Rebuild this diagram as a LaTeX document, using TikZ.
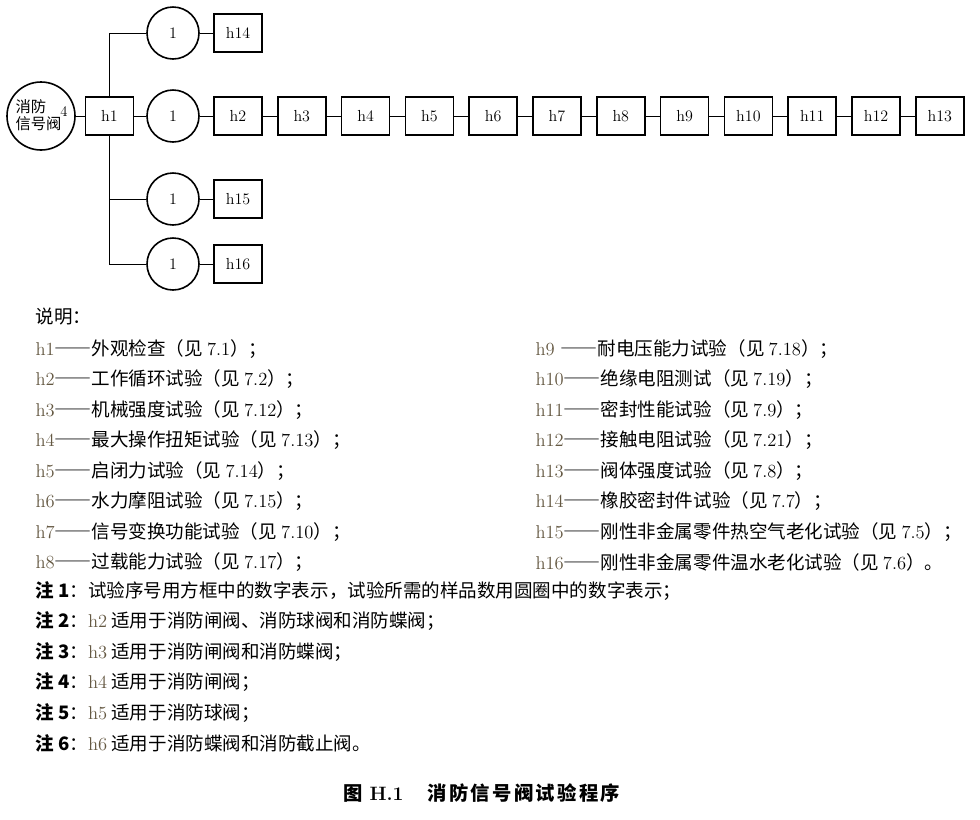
\documentclass[tikz,border=0pt]{standalone}
\usepackage{fontspec}
\newfontfamily\cjk{Noto Sans CJK SC}
\newfontfamily\cjkcap[LetterSpace=12]{Noto Sans CJK SC}
\definecolor{hlabel}{RGB}{100,88,66}

\tikzset{every picture/.style={line width=0.75pt}}
\tikzset{
  testbox/.style={draw, line width=1.3pt, minimum width=36pt, minimum height=28.5pt, inner sep=0pt, font=\fontsize{12}{14}\selectfont},
  samplecirc/.style={draw, circle, line width=1.2pt, minimum size=39pt, inner sep=0pt, font=\fontsize{12}{14}\selectfont},
  legend/.style={anchor=west, inner sep=0pt, font=\cjk\fontsize{13.9}{16}\selectfont},
}
\newcommand\hlab[1]{\textcolor{hlabel}{\rmfamily #1}}
\newcommand\longdash{{\addfontfeatures{RawFeature=+fwid}——}}
\newcommand\legitem[4]{\hlab{#1}\longdash#2（见 {\rmfamily #3}）#4}
\newcommand\notehead[1]{{\bfseries 注 #1}：}

\begin{document}
\begin{tikzpicture}[x=0.75pt,y=0.75pt,yscale=-1,xscale=1]
\useasboundingbox (0,0) rectangle (980,819);

%Shape: Circle [valve]
\node[draw, circle, line width=1.2pt, minimum size=51pt, inner sep=0pt] (valve) at (41,116) {};
% Text Node
\node[align=left, inner sep=0pt, font=\cjk\fontsize{11.5}{12.8}\selectfont] (valvetxt) at (38.5,115) {消防\\信号阀};
% Text Node
\node[inner sep=0pt, font=\fontsize{11}{12}\selectfont] (valvenum) at (64,112) {4};

%Shape: Boxes and circles
\node[testbox] (h1) at (109.5,116) {h1};
\node[samplecirc] (c1) at (173,116) {1};
\node[testbox] (h2) at (238,116) {h2};
\foreach \i [count=\k from 2] in {3,...,13} {
  \node[testbox] (h\i) at ({238+63.8*(\i-2)},116) {h\i};
  \draw (h\k) -- (h\i);
}
\node[samplecirc] (c14) at (173,33) {1};
\node[testbox] (h14) at (238,33) {h14};
\node[samplecirc] (c15) at (173,199) {1};
\node[testbox] (h15) at (238,199) {h15};
\node[samplecirc] (c16) at (173,264) {1};
\node[testbox] (h16) at (238,264) {h16};

%Straight Lines
\draw (valve) -- (h1);
\draw (h1) -- (c1) -- (h2);
\draw (h1.north) |- (c14);
\draw (h1.south) |- (c15);
\draw (h1.south) |- (c16);
\draw (c14) -- (h14);
\draw (c15) -- (h15);
\draw (c16) -- (h16);

% Text Node
\node[legend] (key) at (35,317) {说明：};
% Text Node
\node[legend] (k1) at (35,349) {\legitem{h1}{外观检查}{7.1}{；}};
\node[legend] (k2) at (35,379.5) {\legitem{h2}{工作循环试验}{7.2}{；}};
\node[legend] (k3) at (35,410) {\legitem{h3}{机械强度试验}{7.12}{；}};
\node[legend] (k4) at (35,440.5) {\legitem{h4}{最大操作扭矩试验}{7.13}{；}};
\node[legend] (k5) at (35,471) {\legitem{h5}{启闭力试验}{7.14}{；}};
\node[legend] (k6) at (35,501.5) {\legitem{h6}{水力摩阻试验}{7.15}{；}};
\node[legend] (k7) at (35,532) {\legitem{h7}{信号变换功能试验}{7.10}{；}};
\node[legend] (k8) at (35,562.5) {\legitem{h8}{过载能力试验}{7.17}{；}};
% Text Node
\node[legend] (k9) at (535,349) {\legitem{h9 }{耐电压能力试验}{7.18}{；}};
\node[legend] (k10) at (535,379.5) {\legitem{h10}{绝缘电阻测试}{7.19}{；}};
\node[legend] (k11) at (535,410) {\legitem{h11}{密封性能试验}{7.9}{；}};
\node[legend] (k12) at (535,440.5) {\legitem{h12}{接触电阻试验}{7.21}{；}};
\node[legend] (k13) at (535,471) {\legitem{h13}{阀体强度试验}{7.8}{；}};
\node[legend] (k14) at (535,501.5) {\legitem{h14}{橡胶密封件试验}{7.7}{；}};
\node[legend] (k15) at (535,532) {\legitem{h15}{刚性非金属零件热空气老化试验}{7.5}{；}};
\node[legend] (k16) at (535,562.5) {\legitem{h16}{刚性非金属零件温水老化试验}{7.6}{。}};

% Text Node
\node[legend] (n1) at (35,591) {\notehead{1}试验序号用方框中的数字表示，试验所需的样品数用圆圈中的数字表示；};
\node[legend] (n2) at (35,621.5) {\notehead{2}\hlab{h2} 适用于消防闸阀、消防球阀和消防蝶阀；};
\node[legend] (n3) at (35,652) {\notehead{3}\hlab{h3} 适用于消防闸阀和消防蝶阀；};
\node[legend] (n4) at (35,682.5) {\notehead{4}\hlab{h4} 适用于消防闸阀；};
\node[legend] (n5) at (35,713) {\notehead{5}\hlab{h5} 适用于消防球阀；};
\node[legend] (n6) at (35,743.5) {\notehead{6}\hlab{h6} 适用于消防蝶阀和消防截止阀。};

% Text Node
\node[anchor=west, inner sep=0pt, font=\cjkcap\bfseries\fontsize{14.5}{17}\selectfont] (caption) at (343,793) {图 {\rmfamily\bfseries H.1}\hspace{18pt}消防信号阀试验程序};

\end{tikzpicture}
\end{document}
